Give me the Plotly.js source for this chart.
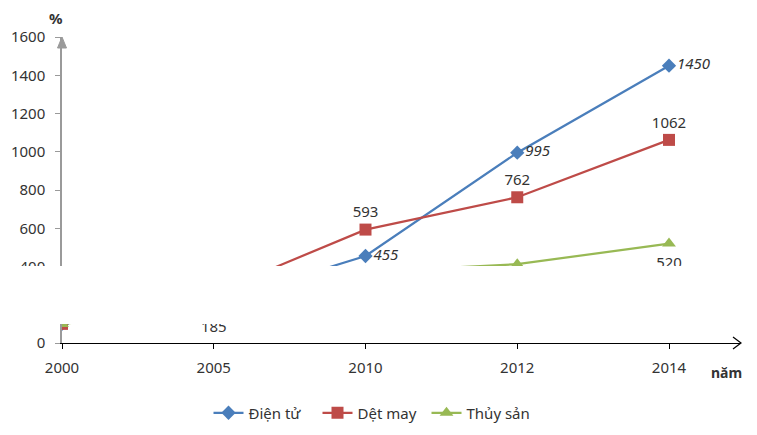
<!DOCTYPE html>
<html>
<head>
<meta charset="utf-8">
<script src="https://cdn.plot.ly/plotly-3.0.1.min.js"></script>
<style>html,body{margin:0;padding:0;background:#fff;}#chart{width:757px;height:435px;}</style>
</head>
<body>
<div id="chart"></div>
<script>
// values (2000 = 100%)
const years = ['2000', '2005', '2010', '2012', '2014'];
const dienTu = [100, 210, 455, 995, 1450];
const detMay = [100, 262, 593, 762, 1062];
const thuySan = [100, 185, 372, 412, 520];
const seriesNames = ['Điện tử', 'Dệt may', 'Thủy sản'];
const yTicks = [0, 200, 400, 600, 800, 1000, 1200, 1400, 1600];

const FONT = 'Noto Sans, DejaVu Sans, sans-serif';
const TXT = '#333333';
function labels(vals){ return vals.map((v,i)=> i===0 ? '' : String(v)); }

// plot area in pixels: left 62, right 740, top 37, bottom 343
const L=62, R=740, T=37, B=343, W=757, H=435;
const px = x => (x-L)/(R-L);
const py = y => (B-y)/(B-T);

const traces = [
  {x: years, y: dienTu, name: seriesNames[0], type: 'scatter', mode: 'lines+markers+text',
   text: labels(dienTu), textposition: 'middle right',
   textfont: {family: FONT, size: 15, color: TXT, style: 'italic'},
   line: {color: '#4A7EBB', width: 2.25},
   marker: {symbol: 'diamond', size: 11, color: '#4A7EBB'}},
  {x: years, y: detMay, name: seriesNames[1], type: 'scatter', mode: 'lines+markers+text',
   text: labels(detMay), textposition: 'top center',
   textfont: {family: FONT, size: 15, color: TXT},
   line: {color: '#BE4B48', width: 2.25},
   marker: {symbol: 'square', size: 12, color: '#BE4B48'}},
  {x: years, y: thuySan, name: seriesNames[2], type: 'scatter', mode: 'lines+markers',
   line: {color: '#98B954', width: 2.25},
   marker: {symbol: 'triangle-up', size: 12, color: '#98B954'}},
  // Thủy sản data labels, placed further below the markers
  {x: years, y: thuySan, name: seriesNames[2] + ' labels', type: 'scatter', mode: 'markers+text',
   text: labels(thuySan), textposition: 'bottom center', showlegend: false, hoverinfo: 'skip',
   textfont: {family: FONT, size: 15, color: TXT},
   marker: {size: 20, color: 'rgba(0,0,0,0)'}}
];

const layout = {
  width: W, height: H,
  margin: {l: L, r: W-R, t: T, b: H-B},
  paper_bgcolor: '#fff', plot_bgcolor: '#fff',
  font: {family: FONT, size: 15, color: TXT},
  showlegend: true,
  legend: {orientation: 'h', xref: 'container', yref: 'container',
           x: 372/W, xanchor: 'center', y: 1-413/H, yanchor: 'middle',
           entrywidth: 64,
           font: {family: FONT, size: 15, color: TXT}, bgcolor: 'rgba(0,0,0,0)'},
  xaxis: {type: 'category', categoryorder: 'array', categoryarray: years,
          range: [0, 4*(R-L)/(669-L)], showgrid: false, zeroline: false,
          showline: true, linecolor: '#000', linewidth: 1.2,
          ticks: 'outside', ticklen: 5, tickcolor: '#000', tickwidth: 1,
          ticklabelstandoff: 6,
          tickfont: {family: FONT, size: 15, color: TXT}},
  yaxis: {range: [0, 1600], tickvals: yTicks, ticktext: yTicks.map(String),
          showgrid: false, zeroline: false,
          showline: true, linecolor: '#9a9a9a', linewidth: 1.5,
          ticks: 'outside', ticklen: 5, tickcolor: '#9a9a9a',
          ticklabelstandoff: 7,
          tickfont: {family: FONT, size: 15, color: TXT}},
  shapes: [
    // y-axis arrow head
    {type: 'path', xref: 'paper', yref: 'paper', layer: 'above',
     path: `M ${px(62)} ${py(37)} L ${px(57.5)} ${py(48)} L ${px(66.5)} ${py(48)} Z`,
     fillcolor: '#9a9a9a', line: {color: '#9a9a9a', width: 1}},
    // x-axis arrow head
    {type: 'path', xref: 'paper', yref: 'paper', layer: 'above',
     path: `M ${px(733)} ${py(337)} L ${px(741)} ${py(343)} L ${px(733)} ${py(349)}`,
     line: {color: '#000', width: 1.2}},
    // white band occluding the middle of the chart
    {type: 'rect', xref: 'paper', yref: 'paper', layer: 'above',
     x0: -0.2, x1: 1.1, y0: py(324), y1: py(266), fillcolor: '#ffffff', line: {width: 0}}
  ],
  annotations: [
    {xref: 'paper', yref: 'paper', x: px(56), y: py(18), xanchor: 'center', yanchor: 'middle',
     text: '<b>%</b>', showarrow: false, font: {family: FONT, size: 15, color: TXT}},
    {xref: 'paper', yref: 'paper', x: px(726), y: py(372), xanchor: 'center', yanchor: 'middle',
     text: '<b>năm</b>', showarrow: false, font: {family: FONT, size: 14, color: TXT}}
  ]
};

Plotly.newPlot('chart', traces, layout, {displayModeBar: false, responsive: false});
</script>
</body>
</html>
